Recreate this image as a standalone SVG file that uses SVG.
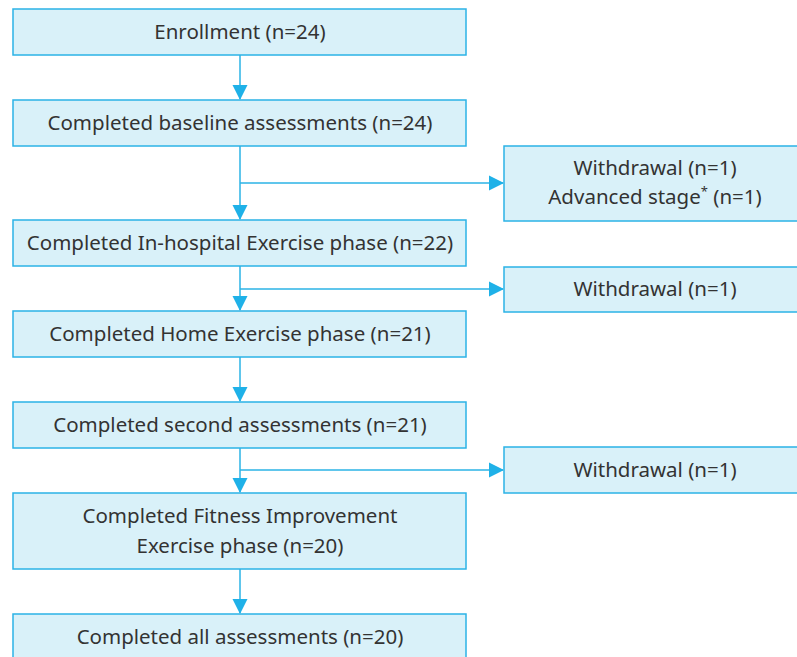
<svg xmlns="http://www.w3.org/2000/svg" width="797" height="657" viewBox="0 0 797 657">
<style>
.box{fill:#d9f1f9;stroke:#2bb3e6;stroke-width:1.5}
.t{font-family:"Noto Sans","Open Sans",sans-serif;font-size:20.5px;fill:#333;text-anchor:middle}
.c{stroke:#2bb3e6;stroke-width:1.5;fill:none}
</style>
<defs>
<marker id="ah" markerWidth="16" markerHeight="16" refX="14" refY="8" orient="auto" markerUnits="userSpaceOnUse" viewBox="0 0 16 16">
<path d="M0,0.5 L15,8 L0,15.5 Z" fill="#1fb1e8"/>
</marker>
</defs>
<rect width="797" height="657" fill="#fff"/>
<g id="connectors">
<line class="c" x1="240" y1="55" x2="240" y2="99" marker-end="url(#ah)"/>
<line class="c" x1="240" y1="146" x2="240" y2="219" marker-end="url(#ah)"/>
<line class="c" x1="240" y1="183" x2="503" y2="183" marker-end="url(#ah)"/>
<line class="c" x1="240" y1="266" x2="240" y2="310" marker-end="url(#ah)"/>
<line class="c" x1="240" y1="289" x2="503" y2="289" marker-end="url(#ah)"/>
<line class="c" x1="240" y1="357" x2="240" y2="401" marker-end="url(#ah)"/>
<line class="c" x1="240" y1="448" x2="240" y2="492" marker-end="url(#ah)"/>
<line class="c" x1="240" y1="470" x2="503" y2="470" marker-end="url(#ah)"/>
<line class="c" x1="240" y1="569" x2="240" y2="613" marker-end="url(#ah)"/>
</g>
<g id="n1"><rect class="box" x="13" y="9" width="453" height="46"/><text class="t" x="240" y="39">Enrollment (n=24)</text></g>
<g id="n2"><rect class="box" x="13" y="100" width="453" height="46"/><text class="t" x="240" y="130">Completed baseline assessments (n=24)</text></g>
<g id="w1"><rect class="box" x="504" y="146" width="300" height="75"/><text class="t" x="655" y="175">Withdrawal (n=1)</text><text class="t" x="655" y="204">Advanced stage<tspan dy="-8" font-size="13">*</tspan><tspan dy="8"> (n=1)</tspan></text></g>
<g id="n3"><rect class="box" x="13" y="220" width="453" height="46"/><text class="t" x="240" y="250">Completed In-hospital Exercise phase (n=22)</text></g>
<g id="w2"><rect class="box" x="504" y="267" width="300" height="45"/><text class="t" x="655" y="296">Withdrawal (n=1)</text></g>
<g id="n4"><rect class="box" x="13" y="311" width="453" height="46"/><text class="t" x="240" y="341">Completed Home Exercise phase (n=21)</text></g>
<g id="n5"><rect class="box" x="13" y="402" width="453" height="46"/><text class="t" x="240" y="432">Completed second assessments (n=21)</text></g>
<g id="w3"><rect class="box" x="504" y="447" width="300" height="46"/><text class="t" x="655" y="477">Withdrawal (n=1)</text></g>
<g id="n6"><rect class="box" x="13" y="493" width="453" height="76"/><text class="t" x="240" y="523">Completed Fitness Improvement</text><text class="t" x="240" y="553">Exercise phase (n=20)</text></g>
<g id="n7"><rect class="box" x="13" y="614" width="453" height="60"/><text class="t" x="240" y="644">Completed all assessments (n=20)</text></g>
</svg>
